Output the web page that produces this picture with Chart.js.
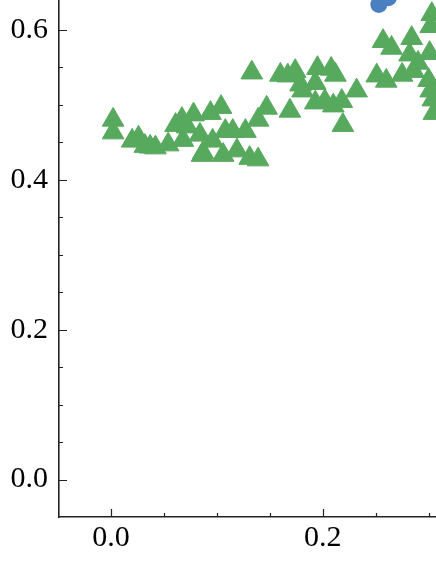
<!DOCTYPE html>
<html>
<head>
<meta charset="utf-8">
<script src="https://cdn.jsdelivr.net/npm/chart.js@4"></script>
<style>
  html, body { margin: 0; padding: 0; background: #fff; overflow: hidden; }
</style>
</head>
<body>
<canvas id="plot" width="436" height="564"></canvas>
<script>
// values
const greenX = [0.002, 0.002, 0.020, 0.026, 0.032, 0.037, 0.042, 0.054, 0.061, 0.067,
                0.078, 0.068, 0.087, 0.094, 0.104, 0.084, 0.096, 0.108, 0.115, 0.119,
                0.127, 0.131, 0.139, 0.139, 0.147, 0.133, 0.160, 0.167, 0.174, 0.179,
                0.169, 0.195, 0.208, 0.212, 0.193, 0.181, 0.193, 0.202, 0.210, 0.219,
                0.218, 0.232, 0.251, 0.260, 0.257, 0.265, 0.284, 0.282, 0.275, 0.286,
                0.300, 0.302, 0.304, 0.305, 0.301, 0.302, 0.303, 0.290, 0.086, 0.106,
                0.072];
const greenY = [0.480, 0.463, 0.452, 0.456, 0.445, 0.444, 0.443, 0.447, 0.473, 0.481,
                0.487, 0.453, 0.436, 0.489, 0.497, 0.460, 0.452, 0.465, 0.465, 0.439,
                0.465, 0.429, 0.427, 0.480, 0.496, 0.543, 0.540, 0.539, 0.545, 0.527,
                0.492, 0.549, 0.548, 0.540, 0.529, 0.519, 0.503, 0.505, 0.499, 0.473,
                0.505, 0.519, 0.539, 0.532, 0.585, 0.576, 0.589, 0.567, 0.540, 0.545,
                0.533, 0.519, 0.507, 0.489, 0.569, 0.605, 0.621, 0.556, 0.433, 0.433,
                0.471];
const blueX = [0.253, 0.262];
const blueY = [0.634, 0.643];

const xTicks = [0.0, 0.2];
const yTicks = [0.0, 0.2, 0.4, 0.6];

const toPts = (xs, ys) => xs.map((x, i) => ({ x: x, y: ys[i] }));

const serif = { family: "'Liberation Serif', 'DejaVu Serif', serif", size: 30 };

// matplotlib-style inward ticks, major + minor
const inwardTicks = {
    id: 'inwardTicks',
    afterDraw(chart) {
        const ctx = chart.ctx, area = chart.chartArea;
        const xs = chart.scales.x, ys = chart.scales.y;
        ctx.save();
        ctx.strokeStyle = '#222';
        ctx.lineWidth = 1.2;
        ctx.beginPath();
        for (let v = -0.05; v <= xs.max + 1e-9; v += 0.05) {
            const px = Math.round(xs.getPixelForValue(v)) + 0.5;
            if (px < area.left + 1) continue;
            const major = Math.abs(v / 0.2 - Math.round(v / 0.2)) < 1e-6;
            ctx.moveTo(px, area.bottom);
            ctx.lineTo(px, area.bottom - (major ? 8 : 4));
        }
        for (let v = -0.05; v <= ys.max + 1e-9; v += 0.05) {
            const py = Math.round(ys.getPixelForValue(v)) + 0.5;
            if (py > area.bottom - 1) continue;
            const major = Math.abs(v / 0.2 - Math.round(v / 0.2)) < 1e-6;
            ctx.moveTo(area.left, py);
            ctx.lineTo(area.left + (major ? 8 : 4), py);
        }
        ctx.stroke();
        ctx.restore();
    }
};

new Chart(document.getElementById('plot'), {
    type: 'scatter',
    data: {
        datasets: [
            { data: toPts(blueX, blueY), pointStyle: 'circle', pointRadius: 8.5,
              backgroundColor: '#4a80c0', borderColor: '#4a80c0', borderWidth: 0, clip: false },
            { data: toPts(greenX, greenY), pointStyle: 'triangle', pointRadius: 12.5,
              backgroundColor: '#57a95e', borderColor: '#57a95e', borderWidth: 1, clip: false }
        ]
    },
    options: {
        responsive: false,
        devicePixelRatio: 1,
        animation: false,
        events: [],
        layout: { padding: 0, autoPadding: false },
        plugins: { legend: { display: false }, tooltip: { enabled: false } },
        scales: {
            x: {
                type: 'linear', min: -0.0491, max: 0.307,
                afterBuildTicks: s => { s.ticks = xTicks.map(v => ({ value: v })); },
                afterFit: s => { s.height = 47; s.paddingLeft = 0; s.paddingRight = 0; },
                grid: { display: true, drawOnChartArea: false, drawTicks: false },
                border: { display: true, color: '#222', width: 1.6 },
                ticks: { autoSkip: false, maxRotation: 0, padding: 3, color: '#000', font: serif,
                         callback: v => v.toFixed(1) }
            },
            y: {
                type: 'linear', min: -0.050, max: 0.640,
                afterBuildTicks: s => { s.ticks = yTicks.map(v => ({ value: v })); },
                afterFit: s => { s.width = 59; s.paddingTop = 0; s.paddingBottom = 0; },
                grid: { display: true, drawOnChartArea: false, drawTicks: false },
                border: { display: true, color: '#222', width: 1.6 },
                ticks: { autoSkip: false, padding: 11, color: '#000', font: serif,
                         callback: v => v.toFixed(1) }
            }
        }
    },
    plugins: [inwardTicks]
});
</script>
</body>
</html>
